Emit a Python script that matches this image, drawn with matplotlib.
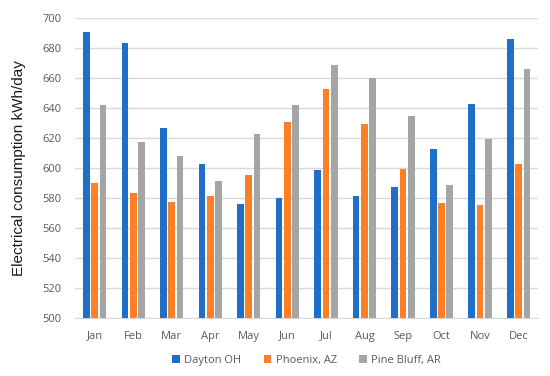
import numpy as np
import matplotlib
matplotlib.use("Agg")
import matplotlib.pyplot as plt

# monthly average consumption
months = ["Jan", "Feb", "Mar", "Apr", "May", "Jun",
          "Jul", "Aug", "Sep", "Oct", "Nov", "Dec"]
dayton = [690.5, 683.6, 626.7, 602.7, 576, 579.8, 598.7, 581.6, 587.3, 612.4, 642.9, 685.8]
phoenix = [590, 583.5, 577.6, 581.1, 595.1, 630.7, 652.4, 629.6, 599.1, 576.4, 575.1, 602.7]
pine_bluff = [641.8, 617.3, 608, 591.1, 622.7, 641.8, 668.7, 659.8, 634.9, 588.7, 619.1, 665.8]
series_names = ["Dayton OH", "Phoenix, AZ", "Pine Bluff, AR"]

colors = ["#1F6FC8", "#FF7F27", "#A5A5A5"]
tick_color = "#595959"

plt.rcParams["font.family"] = ["Open Sans", "DejaVu Sans"]

fig = plt.figure(figsize=(5.5, 3.76), dpi=100)
ax = fig.add_axes([0.137, 0.154, 0.841, 0.798])

x = np.arange(len(months))
width = 0.173
step = 0.215
for i, (vals, name) in enumerate(zip([dayton, phoenix, pine_bluff], series_names)):
    ax.bar(x + (i - 1) * step, vals, width=width, color=colors[i], label=name, zorder=3)

ax.set_ylim(500, 700)
ax.set_xlim(-0.5, len(months) - 0.5)
ax.set_yticks(range(500, 701, 20))
ax.set_xticks(x)
ax.set_xticklabels(months)
ax.grid(axis="y", color="#D9D9D9", linewidth=1, zorder=0)
for s in ["top", "right", "left"]:
    ax.spines[s].set_visible(False)
ax.spines["bottom"].set_color("#D9D9D9")
ax.tick_params(axis="both", length=0, labelsize=8, colors=tick_color, pad=9)
ax.tick_params(axis="y", pad=10)
ax.set_ylabel("Electrical consumption kWh/day", fontsize=11,
              family=["Liberation Sans"], color="#1A1A1A", labelpad=12)

ax.legend(loc="upper center", bbox_to_anchor=(0.5, -0.09), ncol=3, frameon=False,
          fontsize=8, handlelength=0.7, handleheight=0.7, handletextpad=0.4,
          columnspacing=2.0, labelcolor=tick_color)

fig.savefig("out.png", dpi=100)
